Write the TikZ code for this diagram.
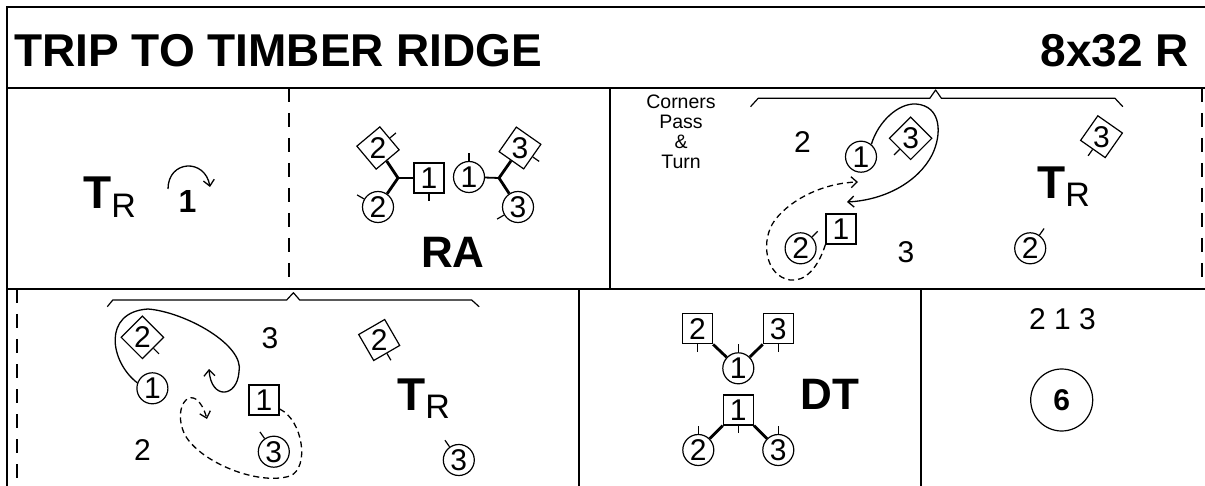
\documentclass[tikz,border=0pt]{standalone}
\usepackage{fontspec}
\setmainfont{Liberation Sans}
\usetikzlibrary{calc,arrows.meta}

\newcommand{\titlefont}{\fontsize{46}{46}\selectfont\bfseries}
\newcommand{\numfont}{\fontsize{30}{30}\selectfont}
\newcommand{\figfont}{\fontsize{44}{44}\selectfont\bfseries}
\newcommand{\notefont}{\fontsize{19.5}{20}\selectfont}
\newcommand{\turnR}{{\fontsize{46}{46}\selectfont\bfseries T}\raisebox{-8.5pt}{\fontsize{34}{34}\selectfont R}}

\begin{document}
\begin{tikzpicture}[x=1pt,y=-1pt,
  frame/.style={line width=1.8pt},
  cut/.style={line width=1.6pt, dash pattern=on 14pt off 11pt},
  man/.style={draw, rectangle, line width=1.2pt, minimum size=30pt, inner sep=0pt, font=\numfont},
  woman/.style={draw, circle, line width=1.2pt, minimum size=31pt, inner sep=0pt, font=\numfont},
  hands/.style={line width=2.8pt},
  track/.style={line width=1.3pt, ->, >={Straight Barb[length=6pt,width=11pt]}},
  dtrack/.style={track, dash pattern=on 6pt off 4pt},
  brace/.style={line width=1.2pt, line join=round},
  lbl/.style={font=\numfont, inner sep=0pt},
]
\useasboundingbox (0,0) rectangle (1205,486);

% Facing tick of a dancer
\newcommand{\facing}[2]{
    % #1 is the dancer, #2 is the anchor it faces
    \draw[line width=1.2pt] (#1.#2) -- ($(#1.center)!1.5!(#1.#2)$);
}

% Frame and dividers
\draw[frame] (7,486) -- (7,7) -- (1206,7);
\draw[frame] (7,88) -- (1206,88);
\draw[frame] (7,289) -- (1206,289);
\draw[cut] (289,88) -- (289,289);
\draw[frame] (610,88) -- (610,289);
\draw[cut] (1202,88) -- (1202,289);
\draw[cut] (17,289) -- (17,486);
\draw[frame] (579,289) -- (579,486);
\draw[frame] (921,289) -- (921,486);

% Title
\node[anchor=base west, inner sep=0, font=\titlefont] (title) at (14,67) {TRIP TO TIMBER RIDGE};
\node[anchor=base east, inner sep=0, font=\titlefont] (form) at (1189,67) {8x32 R};

% Bars 1-8: turn and cast
\node[anchor=base west, inner sep=0] (turn1) at (83,209) {\turnR};
\node[inner sep=0, font=\fontsize{32}{32}\selectfont\bfseries] (cast1) at (187.5,201.5) {1};
\draw[track] (168,189) .. controls (168,160) and (205,158) .. (210,187);

% Bars 9-16: rights across
\node[man, rotate=40] (ra2m) at (378,148) {\rotatebox{-40}{2}};
\node[woman] (ra2w) at (378,207) {2};
\node[man] (ra1m) at (429,178) {1};
\node[woman] (ra1w) at (469,177) {1};
\node[man, rotate=-35] (ra3m) at (520,148) {\rotatebox{35}{3}};
\node[woman] (ra3w) at (518,207) {3};
\coordinate (raL) at (398,178);
\coordinate (raR) at (499,178);
\draw[hands] (ra2m) -- (raL) -- (ra2w);
\draw[line width=1.8pt] (raL) -- (ra1m);
\draw[line width=1.8pt] (ra1w) -- (raR);
\draw[hands] (ra3m) -- (raR) -- (ra3w);
\facing{ra2m}{east}
\facing{ra2w}{150}
\facing{ra1m}{south}
\facing{ra1w}{north}
\facing{ra3m}{east}
\facing{ra3w}{210}
\node[inner sep=0, font=\figfont] (ra) at (453,252) {RA};

% Bars 17-20: corners pass and turn (1st corners)
\node[align=center, font=\notefont, inner sep=0] (cpt) at (681,131.7) {Corners\\Pass\\\&\\Turn};
\draw[brace] (750.5,106.7) -- (758.2,98.3) -- (929.8,98.3) -- (935.6,90) -- (941.4,98.3) -- (1115,98.3) -- (1122.8,106.7);
\node[lbl] (cp2) at (802.5,141.7) {2};
\node[woman] (cp1w) at (861,156.7) {1};
\node[man, rotate=45] (cp3m) at (910.6,138.3) {\rotatebox{-45}{3}};
\node[man] (cp1m) at (841,229) {1};
\node[woman] (cp2w) at (800.6,248.3) {2};
\node[lbl] (cp3) at (906,251.7) {3};
\facing{cp3m}{west}
\facing{cp2w}{45}
\coordinate (cpA) at (847,202);
\coordinate (cpB) at (858,182);
\draw[track] (cp1w.50) .. controls (878,122) and (898,103) .. (916,104)
    .. controls (942,106) and (942,135) .. (932,155)
    .. controls (918,182) and (885,200) .. (cpA);
\draw[dtrack] (cp1m.south west) .. controls (818,268) and (805,282) .. (790,280)
    .. controls (765,276) and (760,240) .. (775,220)
    .. controls (792,198) and (825,183) .. (cpB);
\node[anchor=base west, inner sep=0] (cptr) at (1037,198.3) {\turnR};
\node[man, rotate=55] (cp3end) at (1101.5,136.7) {\rotatebox{-55}{3}};
\node[woman] (cp2end) at (1030.2,248.3) {2};
\facing{cp3end}{west}
\facing{cp2end}{55}

% Bars 21-24: corners pass and turn (2nd corners)
\draw[brace] (107.3,306.7) -- (112.8,300) -- (286.7,300) -- (293.4,292.7) -- (299.7,300) -- (471.7,300) -- (479.1,306.7);
\node[man, rotate=45] (tp2m) at (142.4,337.3) {\rotatebox{-45}{2}};
\node[woman] (tp1w) at (152.4,388.3) {1};
\node[lbl] (tp3) at (270,338.3) {3};
\node[man] (tp1m) at (264,400) {1};
\node[woman] (tp3w) at (273.8,451.7) {3};
\node[lbl] (tp2) at (142.4,450) {2};
\facing{tp2m}{south}
\facing{tp3w}{125}
\coordinate (tpA) at (209,369);
\coordinate (tpB) at (207,419);
\draw[track] (tp1w.160) .. controls (110,362) and (102,312) .. (148,309)
    .. controls (185,312) and (245,345) .. (239,372)
    .. controls (237,398) and (211,400) .. (tpA);
\draw[dtrack] (tp1m.330) .. controls (303,420) and (310,468) .. (290,476)
    .. controls (258,486) and (200,462) .. (185,435)
    .. controls (170,405) and (195,378) .. (tpB);
\node[man, rotate=30] (tp2end) at (379.2,340) {\rotatebox{-30}{2}};
\node[anchor=base west, inner sep=0] (tptr) at (397,410) {\turnR};
\node[woman] (tp3end) at (458.8,460) {3};
\facing{tp2end}{south}
\facing{tp3end}{125}

% Bars 25-32: diagonal (corner) positions
\node[man] (dt2m) at (697.5,328.8) {2};
\node[man] (dt3m) at (778.3,328.8) {3};
\node[woman] (dt1w) at (738.3,368.3) {1};
\node[man] (dt1m) at (738.3,410) {1};
\node[woman] (dt2w) at (698.3,450) {2};
\node[woman] (dt3w) at (778.3,450) {3};
\draw[hands] (dt2m.south east) -- (dt1w);
\draw[hands] (dt3m.south west) -- (dt1w);
\draw[hands] (dt1m.south west) -- (dt2w);
\draw[hands] (dt1m.south east) -- (dt3w);
\facing{dt2m}{south}
\facing{dt3m}{south}
\facing{dt1w}{north}
\facing{dt1m}{south}
\facing{dt2w}{north}
\facing{dt3w}{north}
\node[inner sep=0, font=\figfont] (dt) at (830,394) {DT};

% End order and repeats
\node[lbl] (order) at (1062.5,319) {2 1 3};
\node[circle, draw, line width=1.2pt, minimum size=62pt, inner sep=0, font=\numfont\bfseries] (reps) at (1061.7,400) {6};

\end{tikzpicture}
\end{document}
